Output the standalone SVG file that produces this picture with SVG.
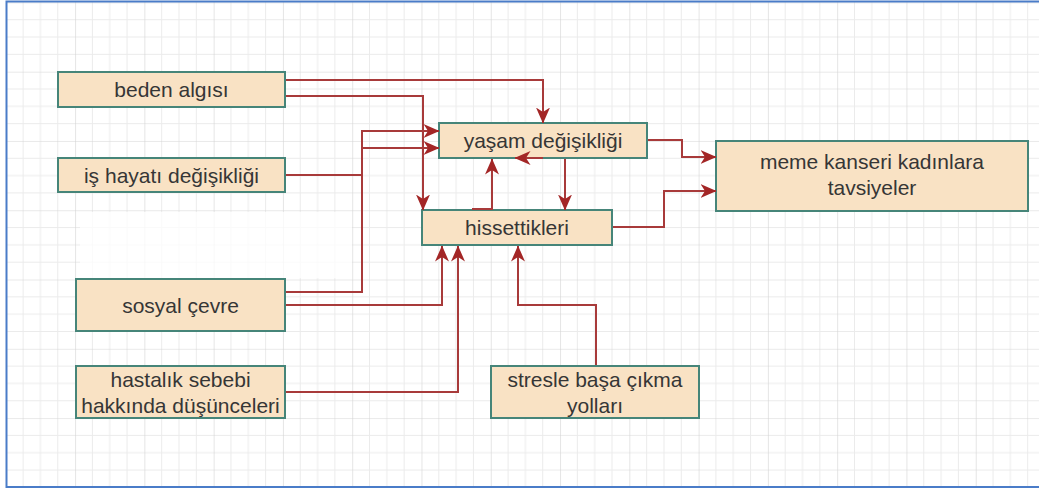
<svg xmlns="http://www.w3.org/2000/svg" width="1039" height="489" viewBox="0 0 1039 489">
<defs>
<pattern id="grid" patternUnits="userSpaceOnUse" x="5.8" y="2.4" width="69.28" height="69.28">
<path d="M17.32,0 V69.28 M34.64,0 V69.28 M51.96,0 V69.28 M0,17.32 H69.28 M0,34.64 H69.28 M0,51.96 H69.28" stroke="#ebebeb" stroke-width="1" fill="none"/>
<path d="M0,0 V69.28 M0,0 H69.28" stroke="#d4d4d4" stroke-width="1.2" fill="none"/>
</pattern>
<marker id="arr" markerUnits="userSpaceOnUse" markerWidth="16" markerHeight="14" viewBox="0 0 16 14" refX="15.5" refY="7" orient="auto">
<path d="M0,0 L16,7 L0,14 L4.5,7 Z" fill="#a32626"/>
</marker>
<style>
.box{fill:#f9e2c4;stroke:#468579;stroke-width:2}
.lbl{font-family:"Liberation Sans",Arial,sans-serif;font-size:21px;fill:#363636;text-anchor:middle}
.edge{fill:none;stroke:#a83a3a;stroke-width:2;marker-end:url(#arr)}
</style>
</defs>
<rect x="0" y="0" width="1039" height="489" fill="#ffffff"/>
<rect x="6" y="1" width="1033" height="487" fill="url(#grid)"/>
<rect x="80" y="212" width="272" height="66" fill="#ffffff" opacity="0.75"/>
<rect x="6.5" y="1.5" width="1040" height="485.5" fill="none" stroke="#4a7cc8" stroke-width="2"/>

<g id="node-beden">
<rect class="box" x="58" y="72" width="227" height="35"/>
<text class="lbl" x="171.5" y="97">beden algısı</text>
</g>
<g id="node-is">
<rect class="box" x="58" y="158" width="227" height="34"/>
<text class="lbl" x="171.5" y="182.5">iş hayatı değişikliği</text>
</g>
<g id="node-sosyal">
<rect class="box" x="76" y="279" width="209" height="52"/>
<text class="lbl" x="180.5" y="312.7">sosyal çevre</text>
</g>
<g id="node-hastalik">
<rect class="box" x="76" y="366" width="209" height="52"/>
<text class="lbl" x="180.5" y="386.7">hastalık sebebi</text>
<text class="lbl" x="180.5" y="412.5">hakkında düşünceleri</text>
</g>
<g id="node-stres">
<rect class="box" x="491" y="366" width="208" height="52"/>
<text class="lbl" x="595" y="386.7">stresle başa çıkma</text>
<text class="lbl" x="595" y="412.5">yolları</text>
</g>
<g id="node-yasam">
<rect class="box" x="439" y="123" width="208" height="35"/>
<text class="lbl" x="543" y="147.7">yaşam değişikliği</text>
</g>
<g id="node-hissettikleri">
<rect class="box" x="422" y="210" width="190" height="35"/>
<text class="lbl" x="517" y="234.7">hissettikleri</text>
</g>
<g id="node-meme">
<rect class="box" x="716" y="141" width="312" height="70"/>
<text class="lbl" x="872" y="168.7">meme kanseri kadınlara</text>
<text class="lbl" x="872" y="194.7">tavsiyeler</text>
</g>

<g id="connectors">
<path class="edge" d="M286,80 H543 V123"/>
<path class="edge" d="M286,96 H423 V210"/>
<path class="edge" d="M286,175 H362 V148 H439"/>
<path class="edge" d="M286,292 H362 V131 H439"/>
<path class="edge" d="M286,305 H442 V246"/>
<path class="edge" d="M286,392 H458 V246"/>
<path class="edge" d="M596,365 V305 H518 V246"/>
<path class="edge" d="M472,209 H492 V159"/>
<path class="edge" d="M543,158 H515"/>
<path class="edge" d="M565,159 V210"/>
<path class="edge" d="M648,140 H682 V157 H716"/>
<path class="edge" d="M613,227 H664 V191 H716"/>
</g>
</svg>
